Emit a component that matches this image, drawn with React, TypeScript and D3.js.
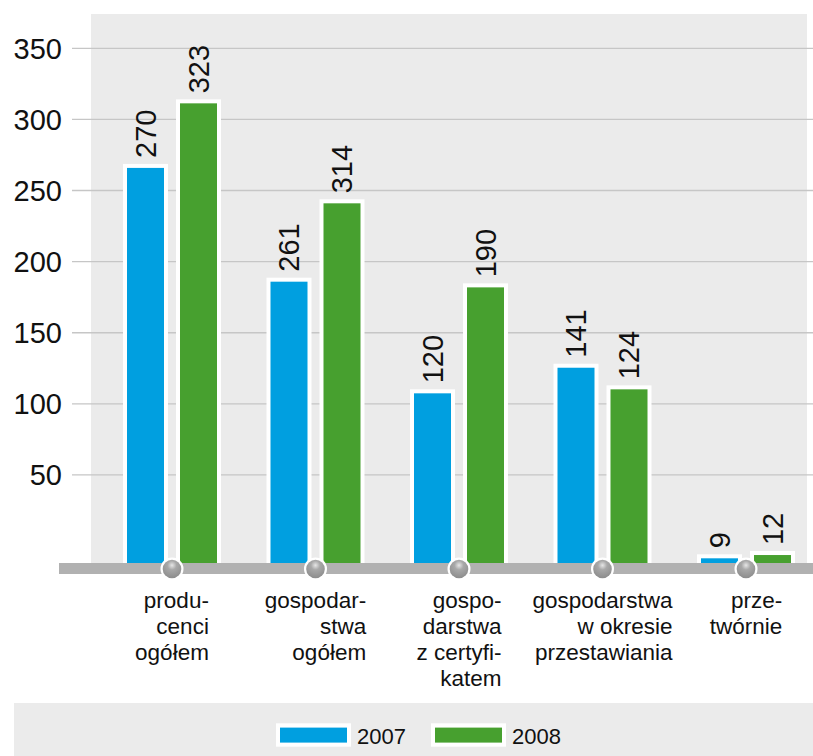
import React from "react";
import * as d3 from "d3";

const categories = ["producenci", "gospodarstwa", "certyfikat", "przestawianie", "przetwornie"];
const categoryLines = [
  ["produ-", "cenci", "ogółem"],
  ["gospodar-", "stwa", "ogółem"],
  ["gospo-", "darstwa", "z certyfi-", "katem"],
  ["gospodarstwa", "w okresie", "przestawiania"],
  ["prze-", "twórnie"],
];
const seriesNames = ["2007", "2008"];
// bar heights as drawn in the picture (axis units)
const bars2007 = [265.9, 185.9, 107.4, 125.4, -8.6];
const bars2008 = [311.3, 241.0, 181.9, 110.2, -6.3];
// printed value labels
const labels2007 = [270, 261, 120, 141, 9];
const labels2008 = [323, 314, 190, 124, 12];
const yTicks = [50, 100, 150, 200, 250, 300, 350];
const axisFloor = -11.9;
const yMax = 350;

const COLORS = ["#009FE0", "#47A02F"];
const FONT = "'Liberation Sans', Arial, sans-serif";

function measure(text: string, size: number): number {
  const c = document.createElement("canvas").getContext("2d");
  if (!c) return text.length * size * 0.5;
  c.font = `${size}px "Liberation Sans", Arial, sans-serif`;
  return c.measureText(text).width;
}

export default function App() {
  const W = 813;
  const H = 756;
  const plotTop = 14;
  const base = 563;
  const y = d3.scaleLinear().domain([axisFloor, yMax]).range([base, 48.3]);
  const x = d3.scaleBand<string>().domain(categories).range([100.25, 817.75]).padding(0);
  const xs = d3.scaleBand<string>().domain(seriesNames).range([-45, 45]).paddingInner(16 / 53).paddingOuter(0);
  const bw = xs.bandwidth();
  const seriesBars = [bars2007, bars2008];
  const seriesLabels = [labels2007, labels2008];
  const catFs = 22.5;

  return (
    <svg
      width={W}
      height={H}
      style={{ position: "absolute", left: 0, top: 0, fontFamily: FONT }}
    >
      <defs>
        <radialGradient id="knob" cx="0.5" cy="0.3" r="0.7">
          <stop offset="0" stopColor="#e6e6e6" />
          <stop offset="0.35" stopColor="#a8a8a8" />
          <stop offset="1" stopColor="#8c8c8c" />
        </radialGradient>
      </defs>
      <rect x={0} y={0} width={W} height={H} fill="#ffffff" />
      {/* plot background */}
      <rect x={91} y={plotTop} width={807 - 91} height={base - plotTop} fill="#EBEBEB" />
      {/* gridlines */}
      {yTicks.map((t) => (
        <line key={t} x1={72} x2={W} y1={y(t)} y2={y(t)} stroke="#C6C6C6" strokeWidth={1.3} />
      ))}
      {/* tick labels */}
      {yTicks.map((t) => (
        <text key={"l" + t} x={62} y={y(t)} dy="0.36em" textAnchor="end" fontSize={29} fill="#111">
          {t}
        </text>
      ))}
      {/* bars */}
      {categories.map((c, i) => {
        const cx = (x(c) as number) + x.bandwidth() / 2;
        return seriesNames.map((s, k) => {
          const v = seriesBars[k][i];
          const bx = cx + (xs(s) as number);
          const top = y(v);
          return (
            <g key={c + s}>
              <rect x={bx - 4} y={top - 4} width={bw + 8} height={base - top + 4} fill="#ffffff" />
              <rect x={bx} y={top} width={bw} height={base - top} fill={COLORS[k]} />
              <text
                transform={`translate(${bx + bw / 2},${top - 10}) rotate(-90)`}
                dy="0.36em"
                textAnchor="start"
                fontSize={29}
                fill="#111"
              >
                {seriesLabels[k][i]}
              </text>
            </g>
          );
        });
      })}
      {/* axis bar */}
      <rect x={59} y={base} width={W - 59} height={11} fill="#B1B1B1" />
      {/* markers */}
      {categories.map((c) => {
        const cx = (x(c) as number) + x.bandwidth() / 2;
        return (
          <g key={"m" + c}>
            <circle cx={cx} cy={569} r={11.5} fill="#ffffff" />
            <circle cx={cx} cy={569} r={9.3} fill="url(#knob)" />
          </g>
        );
      })}
      {/* category labels */}
      {categories.map((c, i) => {
        const cx = (x(c) as number) + x.bandwidth() / 2;
        const lines = categoryLines[i];
        const maxW = Math.max(...lines.map((l) => measure(l, catFs)));
        const rx = cx + maxW / 2;
        return (
          <text key={"c" + c} x={rx} y={608} textAnchor="end" fontSize={catFs} fill="#111">
            {lines.map((l, j) => (
              <tspan key={j} x={rx} dy={j === 0 ? 0 : 26}>
                {l}
              </tspan>
            ))}
          </text>
        );
      })}
      {/* legend */}
      <rect x={14} y={703} width={W - 14} height={H - 703} fill="#EBEBEB" />
      {seriesNames.map((s, k) => {
        const lx = k === 0 ? 276 : 431;
        return (
          <g key={"lg" + s}>
            <rect x={lx} y={723.3} width={75} height={23.4} fill="#ffffff" />
            <rect x={lx + 4} y={727.6} width={67} height={15} fill={COLORS[k]} />
            <text x={lx + 81} y={744} fontSize={22} fill="#111">
              {s}
            </text>
          </g>
        );
      })}
    </svg>
  );
}
